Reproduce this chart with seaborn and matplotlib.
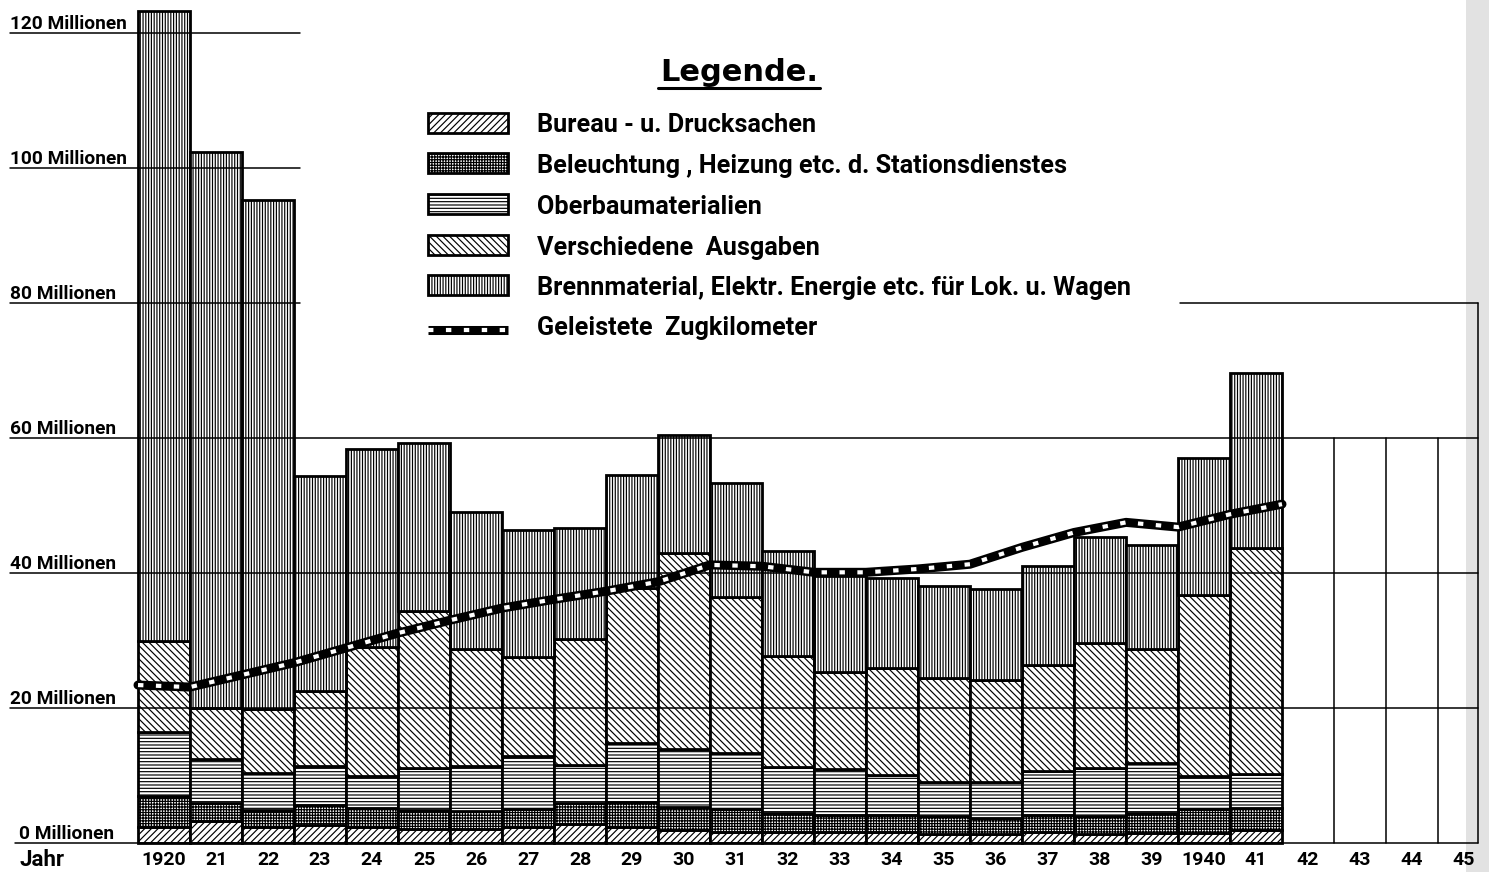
import matplotlib
import numpy as np
import seaborn as sns

matplotlib.use("agg")
import matplotlib.pyplot as plt  # noqa
from matplotlib.patches import Rectangle  # noqa

# Ausgaben in Millionen, je Jahr (von unten nach oben gestapelt)
year_labels = ["1920", "21", "22", "23", "24", "25", "26", "27", "28", "29", "30",
               "31", "32", "33", "34", "35", "36", "37", "38", "39", "1940", "41"]
empty_labels = ["42", "43", "44", "45"]
bureau = [2.4, 3.2, 2.4, 2.6, 2.4, 2.1, 2.1, 2.4, 2.8, 2.4, 1.9,
          1.7, 1.6, 1.6, 1.6, 1.4, 1.3, 1.7, 1.4, 1.5, 1.5, 1.9]
beleuchtung = [4.6, 2.8, 2.5, 3.0, 2.8, 2.8, 2.7, 2.6, 3.1, 3.7, 3.5,
               3.4, 2.9, 2.6, 2.6, 2.6, 2.4, 2.4, 2.6, 2.9, 3.5, 3.3]
oberbau = [9.5, 6.5, 5.4, 5.8, 4.7, 6.2, 6.6, 7.9, 5.7, 8.7, 8.5,
           8.3, 6.7, 6.7, 5.9, 5.0, 5.4, 6.6, 7.1, 7.5, 4.9, 5.0]
verschiedene = [13.5, 7.5, 9.6, 11.1, 19.1, 23.3, 17.3, 14.7, 18.6, 23.0, 29.1,
                23.1, 16.5, 14.5, 15.8, 15.4, 15.0, 15.7, 18.6, 16.9, 26.8, 33.5]
brennmaterial = [93.2, 82.3, 75.4, 31.9, 29.3, 24.8, 20.3, 18.7, 16.4, 16.7, 17.4,
                 16.9, 15.6, 14.1, 13.4, 13.6, 13.5, 14.7, 15.7, 15.3, 20.3, 25.9]
# Geleistete Zugkilometer (relativer Maßstab), jeweils an den Jahresgrenzen
zugkm = [23.4, 23.1, 24.9, 26.7, 28.9, 31.1, 33.0, 34.8, 36.1, 37.3, 38.7, 41.2,
         41.0, 40.1, 40.1, 40.6, 41.3, 43.8, 46.0, 47.5, 46.8, 48.7, 50.2]
ytick_values = [0, 20, 40, 60, 80, 100, 120]

layers = [
    ("Bureau - u. Drucksachen", bureau, "/////"),
    ("Beleuchtung , Heizung etc. d. Stationsdienstes", beleuchtung, "++++++"),
    ("Oberbaumaterialien", oberbau, "-----"),
    ("Verschiedene  Ausgaben", verschiedene, "\\\\\\\\\\"),
    ("Brennmaterial, Elektr. Energie etc. für Lok. u. Wagen", brennmaterial, "||||||"),
]
line_label = "Geleistete  Zugkilometer"

sns.set_theme(style="white")
plt.rcParams["hatch.linewidth"] = 0.85
plt.rcParams["text.color"] = "black"
plt.rcParams["font.family"] = ["Roboto", "DejaVu Sans"]


# pixel -> data helpers for layout only
def px_x(px):
    return (px - 164) / 52


def px_y(py):
    return (843 - py) / 6.75


label_font = dict(family=["Roboto", "DejaVu Sans"], weight="bold", size=13.8)
year_font = dict(family=["Roboto", "DejaVu Sans"], weight="bold", size=14)
legend_font = dict(family=["Roboto", "DejaVu Sans"], weight="bold", size=18.2)

fig = plt.figure(figsize=(14.89, 8.72), dpi=100)
ax = fig.add_axes([0, 0, 1, 1])
ax.set_xlim(px_x(0), px_x(1489))
ax.set_ylim(px_y(872), px_y(0))
ax.axis("off")

x = np.arange(len(year_labels))
bottom = np.zeros(len(year_labels))
for name, vals, hatch in layers:
    ax.bar(x, vals, bottom=bottom, width=1.0, facecolor="white", edgecolor="black",
           hatch=hatch, linewidth=2.0, zorder=2)
    bottom += np.array(vals)

# horizontal rulings
x_left = px_x(10)
x_right = px_x(1478)
for v in ytick_values:
    if v >= 80:
        ax.plot([x_left, px_x(300)], [v, v], color="black", lw=1.1, zorder=3)
    else:
        ax.plot([x_left if v else px_x(15), x_right], [v, v], color="black", lw=1.1, zorder=3)
ax.plot([px_x(1180), x_right], [80, 80], color="black", lw=1.1, zorder=3)
ax.plot([x_right, x_right], [0, 80], color="black", lw=1.1, zorder=3)
for k in range(len(empty_labels) - 1):
    xb = len(year_labels) + k + 0.5
    ax.plot([xb, xb], [0, 60], color="black", lw=1.1, zorder=3)

# scanned page edge
ax.axvspan(px_x(1466), px_x(1489), color="#cfcfcf", alpha=0.6, lw=0, zorder=1)

# Zugkilometer line
xk = np.arange(len(zugkm)) - 0.5
sns.lineplot(x=xk, y=zugkm, ax=ax, color="black", lw=6.5, zorder=4)
sns.lineplot(x=xk, y=zugkm, ax=ax, color="white", lw=3.0, zorder=5)
ax.lines[-1].set_dashes((1.3, 3.0))
ax.lines[-1].set_dash_capstyle("butt")

# y labels
for v in ytick_values:
    ax.text(px_x(10 if v else 19), v + 0.6, f"{v} Millionen", ha="left", va="baseline",
            **label_font)

# year labels
for i, lab in enumerate(year_labels + empty_labels):
    ax.text(i, px_y(865), lab, ha="center", va="baseline", **year_font)
ax.text(px_x(20), px_y(866), "Jahr", ha="left", va="baseline",
        **{**year_font, "size": 16})

# legend
ax.text(px_x(739), px_y(81), "Legende.", ha="center", va="baseline",
        family=["DejaVu Sans"], weight="bold", size=22)
ax.plot([px_x(658), px_x(820)], [px_y(88)] * 2, color="black", lw=2.2)
row_py = [123, 163, 204, 245, 285, 326]
bx0, bx1 = px_x(428), px_x(508)
bh = 20 / 6.75
for (name, vals, hatch), py in zip(layers, row_py):
    ax.add_patch(Rectangle((bx0, px_y(py) - bh / 2), bx1 - bx0, bh, facecolor="white",
                           edgecolor="black", hatch=hatch, linewidth=2.0, zorder=2))
    ax.text(px_x(537), px_y(py), name, ha="left", va="center_baseline", **legend_font)
py = row_py[-1]
ax.plot([bx0, bx1], [px_y(py + 4)] * 2, color="black", lw=6.5, solid_capstyle="butt")
ax.plot([bx0, bx1], [px_y(py + 4)] * 2, color="white", lw=3.0, dashes=(1.3, 3.0),
        dash_capstyle="butt")
ax.text(px_x(537), px_y(py), line_label, ha="left", va="center_baseline", **legend_font)

fig.savefig("out.png", dpi=100, facecolor="white")
